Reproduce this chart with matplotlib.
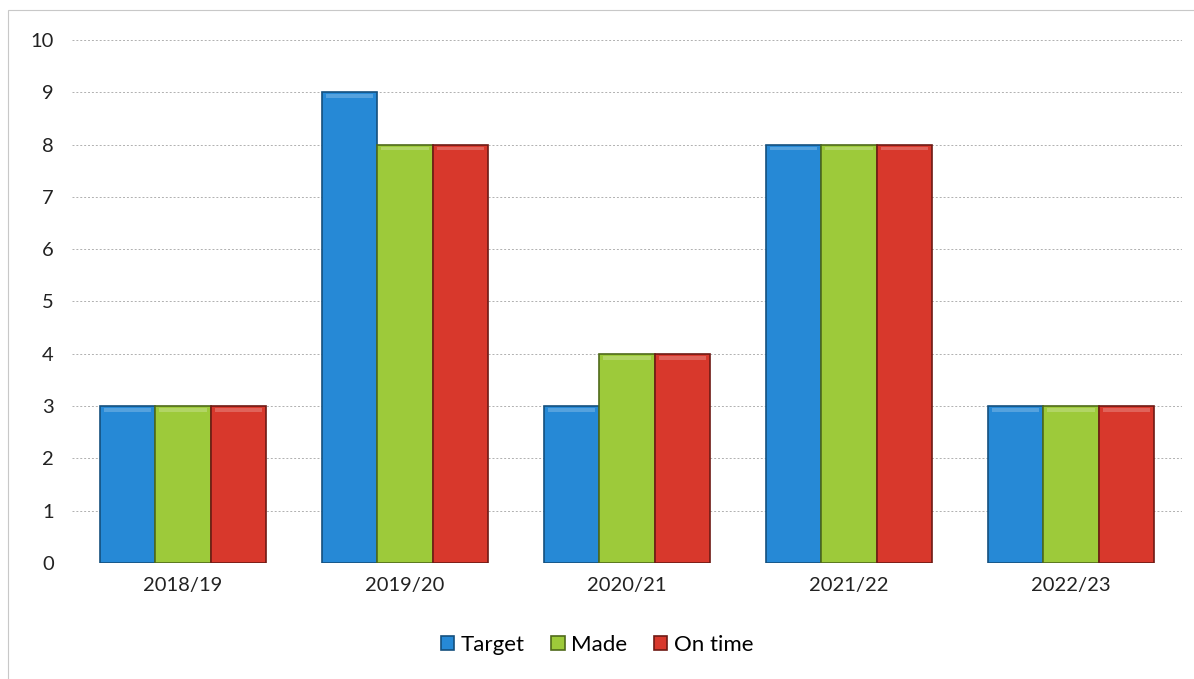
import numpy as np
import matplotlib.pyplot as plt
from matplotlib.patches import Rectangle

plt.rcParams['font.family'] = ['Lato', 'DejaVu Sans']

years = ['2018/19', '2019/20', '2020/21', '2021/22', '2022/23']
target = [3, 9, 3, 8, 3]
made = [3, 8, 4, 8, 3]
on_time = [3, 8, 4, 8, 3]

series = [('Target', target, '#2689d6', '#15507e'),
          ('Made', made, '#9dca3a', '#4f6a1a'),
          ('On time', on_time, '#d8382c', '#6e1a14')]

fig = plt.figure(figsize=(11.94, 6.79), dpi=100)
ax = fig.add_axes([0.0603, 0.171, 0.9297, 0.770])

# faint chart frame like the scanned office chart
fig.patches.append(Rectangle((0.007, -0.01), 1.0, 0.995, transform=fig.transFigure,
                             fill=False, edgecolor='#c8c8c8', linewidth=0.8))

x = np.arange(len(years))
width = 0.25
for i, (name, vals, color, edge) in enumerate(series):
    pos = x + (i - 1) * width
    ax.bar(pos, vals, width, color=color, edgecolor=edge, linewidth=1.2,
           label=name, zorder=3)
    # soft bevel highlight near the top of each bar
    ax.bar(pos, [0.07] * len(vals), width * 0.85, bottom=np.array(vals) - 0.11,
           color='white', alpha=0.22, linewidth=0, zorder=4)

ax.set_xlim(-0.5, len(years) - 0.5)
ax.set_ylim(0, 10)
ax.set_yticks(range(0, 11))
ax.set_xticks(x)
ax.set_xticklabels(years)
ax.tick_params(axis='both', length=0, labelsize=14.5, colors='#222222', pad=10)
ax.tick_params(axis='y', pad=13)
ax.grid(axis='y', color='#b0b0b0', linestyle=(0, (2, 2)), linewidth=0.7, zorder=0)
for s in ax.spines.values():
    s.set_visible(False)

leg = fig.legend(loc='center', bbox_to_anchor=(0.5, 0.05), ncol=3, frameon=False,
                 fontsize=16, handlelength=0.6, handleheight=0.6, handletextpad=0.3,
                 columnspacing=1.2)

fig.savefig('out.png', dpi=100)
